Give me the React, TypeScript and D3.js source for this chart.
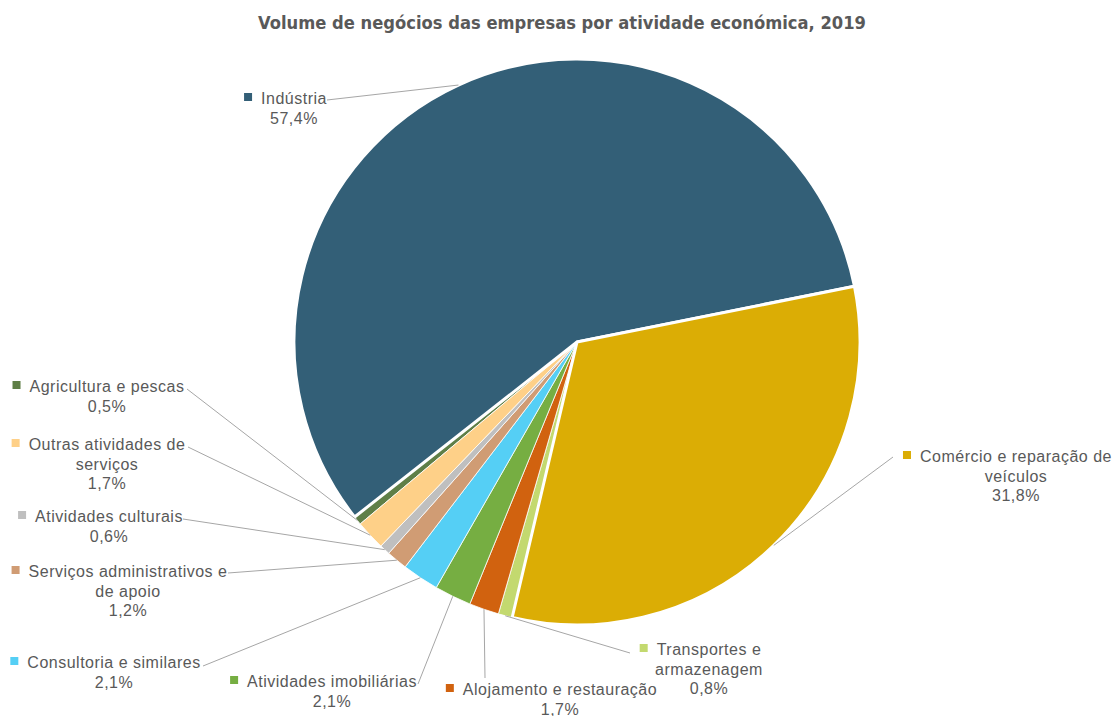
import React, { useRef, useEffect } from 'react';
import * as d3 from 'd3';

// INE order (CAE sections), clockwise from the first slice angle
const categories = [
  'Agricultura e pescas',
  'Indústria',
  'Comércio e reparação de veículos',
  'Transportes e armazenagem',
  'Alojamento e restauração',
  'Atividades imobiliárias',
  'Consultoria e similares',
  'Serviços administrativos e de apoio',
  'Atividades culturais',
  'Outras atividades de serviços',
];
const shares = [0.5, 57.4, 31.8, 0.8, 1.7, 2.1, 2.1, 1.2, 0.6, 1.7];

const palette = ['#5f7f47', '#335f77', '#dbad05', '#c3d96f', '#d1620f', '#76ae42', '#55cff5', '#d09c74', '#bfbfbf', '#fed088'];
// number of words on first label line (0 = no wrap)
const wrapAfter = [0, 0, 4, 2, 0, 0, 0, 3, 0, 3];
// label centre x, first baseline, leader attach x, y
const labelSpots = [
  [107, 392, 187, 389],
  [294, 104, 327, 100],
  [1016, 462, 893, 457],
  [709, 655, 630, 653],
  [560, 695, 485, 678],
  [332, 687, 418, 684],
  [114, 668, 203, 666],
  [128, 577, 228, 573],
  [109, 522, 183, 519],
  [107, 450, 188, 447],
];

const W = 1119, H = 716;
const CX = 577, CY = 342, R = 283;
const START = (230 * Math.PI) / 180;
const fmt = (v: number) => v.toFixed(1).replace('.', ',') + '%';

const App = () => {
  const svgRef = useRef<SVGSVGElement>(null);

  useEffect(() => {
    const svg = d3.select(svgRef.current);
    svg.selectAll('*').remove();

    const pie = d3.pie<number>().sort(null).value(d => d).startAngle(START).endAngle(START + 2 * Math.PI);
    const arcs = pie(shares);
    const arc = d3.arc<d3.PieArcDatum<number>>().innerRadius(0).outerRadius(R);

    const g = svg.append('g').attr('transform', `translate(${CX},${CY})`);
    const big = (i: number) => i === 1 || i === 2;
    const order = arcs.map((_, i) => i).sort((a, b) => Number(big(a)) - Number(big(b)));

    g.selectAll('path')
      .data(order)
      .join('path')
      .attr('d', i => arc(arcs[i]))
      .attr('fill', i => palette[i])
      .attr('stroke', '#fff')
      .attr('stroke-width', i => (big(i) ? 3 : 0.8))
      .attr('stroke-linejoin', 'round');

    // leader lines
    svg.selectAll('.leader')
      .data(arcs)
      .join('line')
      .attr('class', 'leader')
      .attr('x1', (_, i) => labelSpots[i][2])
      .attr('y1', (_, i) => labelSpots[i][3])
      .attr('x2', d => CX + Math.sin((d.startAngle + d.endAngle) / 2) * R)
      .attr('y2', d => CY - Math.cos((d.startAngle + d.endAngle) / 2) * R)
      .attr('stroke', '#a6a6a6')
      .attr('stroke-width', 1);

    // labels
    categories.forEach((name, i) => {
      const [lx, ly] = labelSpots[i];
      const words = name.split(' ');
      const lines = wrapAfter[i] ? [words.slice(0, wrapAfter[i]).join(' '), words.slice(wrapAfter[i]).join(' ')] : [name];
      lines.push(fmt(shares[i]));
      const t = svg.append('text')
        .attr('font-family', '"Liberation Sans", Arial, sans-serif')
        .attr('font-size', 16)
        .attr('letter-spacing', 0.5)
        .attr('fill', '#595959')
        .attr('text-anchor', 'middle');
      const spans = lines.map((ln, k) =>
        t.append('tspan').attr('x', lx).attr('y', ly + k * 19.5).text(ln)
      );
      const w1 = (spans[0].node() as SVGTSpanElement).getComputedTextLength();
      svg.append('rect')
        .attr('x', lx - w1 / 2 - 17)
        .attr('y', ly - 11)
        .attr('width', 8)
        .attr('height', 8)
        .attr('fill', palette[i]);
    });

    svg.append('text')
      .attr('x', 562)
      .attr('y', 29)
      .attr('text-anchor', 'middle')
      .attr('font-family', '"DejaVu Sans", sans-serif')
      .attr('font-weight', 'bold')
      .attr('font-size', 17)
      .attr('fill', '#595959')
      .attr('textLength', 608)
      .attr('lengthAdjust', 'spacingAndGlyphs')
      .text('Volume de negócios das empresas por atividade económica, 2019');
  }, []);

  return (
    <svg ref={svgRef} width={W} height={H} style={{ position: 'absolute', left: 0, top: 0, background: '#fff' }} />
  );
};

export default App;
